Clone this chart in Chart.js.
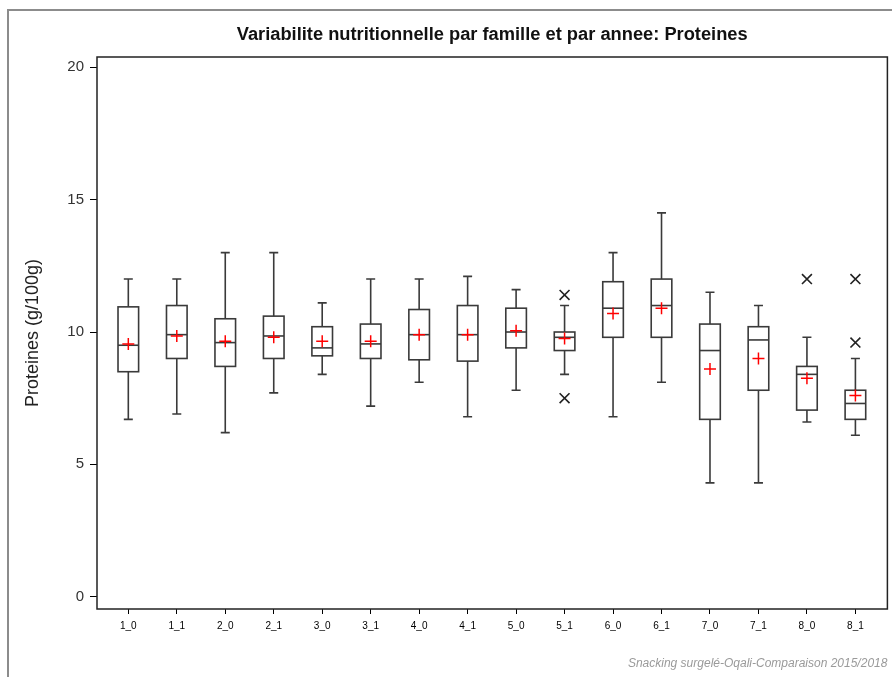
<!DOCTYPE html>
<html><head><meta charset="utf-8">
<script src="https://cdn.jsdelivr.net/npm/chart.js@4/dist/chart.umd.min.js"></script>
<style>
html,body{margin:0;padding:0;background:#fff;}
#wrap{position:relative;width:892px;height:677px;overflow:hidden;background:#fff;}
#frame{position:absolute;left:7px;top:9px;width:900px;height:700px;border-left:2px solid #8c8c8c;border-top:2px solid #8c8c8c;}
canvas{position:absolute;left:0;top:0;}
</style></head><body>
<div id="wrap"><div id="frame"></div><canvas id="c" width="896" height="677"></canvas></div>
<script>
const categories = ['1_0','1_1','2_0','2_1','3_0','3_1','4_0','4_1','5_0','5_1','6_0','6_1','7_0','7_1','8_0','8_1'];
const whiskerLow  = [6.7, 6.9, 6.2, 7.7, 8.4, 7.2, 8.1, 6.8, 7.8, 8.4, 6.8, 8.1, 4.3, 4.3, 6.6, 6.1];
const q1          = [8.5, 9.0, 8.7, 9.0, 9.1, 9.0, 8.95, 8.9, 9.4, 9.3, 9.8, 9.8, 6.7, 7.8, 7.05, 6.7];
const medians     = [9.5, 9.9, 9.6, 9.85, 9.4, 9.55, 9.9, 9.9, 10.0, 9.8, 10.9, 11.0, 9.3, 9.7, 8.4, 7.3];
const q3          = [10.95, 11.0, 10.5, 10.6, 10.2, 10.3, 10.85, 11.0, 10.9, 10.0, 11.9, 12.0, 10.3, 10.2, 8.7, 7.8];
const whiskerHigh = [12.0, 12.0, 13.0, 13.0, 11.1, 12.0, 12.0, 12.1, 11.6, 11.0, 13.0, 14.5, 11.5, 11.0, 9.8, 9.0];
const means       = [9.55, 9.85, 9.65, 9.8, 9.65, 9.65, 9.9, 9.9, 10.05, 9.75, 10.7, 10.9, 8.6, 9.0, 8.25, 7.6];
const outlierCategory = [9, 9, 14, 15, 15];
const outlierValue    = [11.4, 7.5, 12.0, 12.0, 9.6];
const yTicks = [0, 5, 10, 15, 20];
const chartTitle = 'Variabilite nutritionnelle par famille et par annee: Proteines';
const yTitle = 'Proteines (g/100g)';
const footer = 'Snacking surgelé-Oqali-Comparaison 2015/2018';

const FONT = "'Liberation Sans', Arial, Helvetica, sans-serif";

const boxPlugin = {
  id: 'boxes',
  beforeDatasetsDraw(chart) {
    const ctx = chart.ctx, xs = chart.scales.x, ys = chart.scales.y;
    const halfBox = 10.3, halfCap = 4.5;
    ctx.save();
    ctx.strokeStyle = '#3a3a3a';
    ctx.lineWidth = 1.6;
    categories.forEach((c, i) => {
      const x = xs.getPixelForValue(i);
      const yLo = ys.getPixelForValue(whiskerLow[i]);
      const yQ1 = ys.getPixelForValue(q1[i]);
      const yMed = ys.getPixelForValue(medians[i]);
      const yQ3 = ys.getPixelForValue(q3[i]);
      const yHi = ys.getPixelForValue(whiskerHigh[i]);
      ctx.beginPath();
      ctx.moveTo(x, yQ1); ctx.lineTo(x, yLo);
      ctx.moveTo(x - halfCap, yLo); ctx.lineTo(x + halfCap, yLo);
      ctx.moveTo(x, yQ3); ctx.lineTo(x, yHi);
      ctx.moveTo(x - halfCap, yHi); ctx.lineTo(x + halfCap, yHi);
      ctx.stroke();
      ctx.strokeRect(x - halfBox, yQ3, 2 * halfBox, yQ1 - yQ3);
      ctx.beginPath();
      ctx.moveTo(x - halfBox, yMed); ctx.lineTo(x + halfBox, yMed);
      ctx.stroke();
    });
    ctx.restore();
  },
  afterDraw(chart) {
    const a = chart.chartArea, ctx = chart.ctx;
    ctx.save();
    ctx.strokeStyle = '#222';
    ctx.lineWidth = 1.5;
    ctx.strokeRect(a.left, a.top, a.right - a.left, a.bottom - a.top);
    ctx.restore();
  }
};

new Chart(document.getElementById('c'), {
  type: 'scatter',
  plugins: [boxPlugin],
  data: {
    datasets: [
      {
        label: 'Moyenne',
        data: categories.map((c, i) => ({ x: i, y: means[i] })),
        pointStyle: 'cross', pointRadius: 6, borderColor: '#ff0000', backgroundColor: '#ff0000', borderWidth: 1.5
      },
      {
        label: 'Valeurs extremes',
        data: outlierCategory.map((c, i) => ({ x: c, y: outlierValue[i] })),
        pointStyle: 'crossRot', pointRadius: 7, borderColor: '#222', backgroundColor: '#222', borderWidth: 1.6
      }
    ]
  },
  options: {
    responsive: false,
    animation: false,
    devicePixelRatio: 1,
    layout: { padding: { left: 0, right: 5, top: 0, bottom: 0 } },
    plugins: {
      legend: { display: false },
      tooltip: { enabled: false },
      title: {
        display: true, text: chartTitle, color: '#111', fullSize: false,
        font: { family: FONT, size: 18.3, weight: 'bold' },
        padding: { top: 24, bottom: 11.04 }
      },
      subtitle: {
        display: true, text: footer, position: 'bottom', align: 'end', color: '#9a9a9a', fullSize: false,
        font: { family: FONT, size: 12, style: 'italic' },
        padding: { top: 0, bottom: 6.5 }
      }
    },
    scales: {
      x: {
        type: 'linear', min: -0.646, max: 15.66,
        afterBuildTicks: s => { s.ticks = categories.map((c, i) => ({ value: i })); },
        afterFit: s => { s.height = 47.1; s.paddingLeft = 0; s.paddingRight = 0; },
        ticks: {
          autoSkip: false, maxRotation: 0, padding: 6, color: '#000',
          font: { family: FONT, size: 10 },
          callback: v => categories[v]
        },
        grid: { display: true, drawOnChartArea: false, drawTicks: true, tickLength: 5, color: '#000', lineWidth: 1 },
        border: { display: false }
      },
      y: {
        type: 'linear', min: -0.465, max: 20.39,
        afterBuildTicks: s => { s.ticks = yTicks.map(v => ({ value: v })); },
        afterFit: s => { s.width = 97; },
        ticks: { padding: 6, color: '#333', font: { family: FONT, size: 15 } },
        grid: { display: true, drawOnChartArea: false, drawTicks: true, tickLength: 7, color: '#000', lineWidth: 1 },
        border: { display: false },
        title: {
          display: true, text: yTitle, color: '#222',
          font: { family: FONT, size: 18 },
          padding: { top: 22.7, bottom: 0 }
        }
      }
    }
  }
});
</script>
</body></html>
